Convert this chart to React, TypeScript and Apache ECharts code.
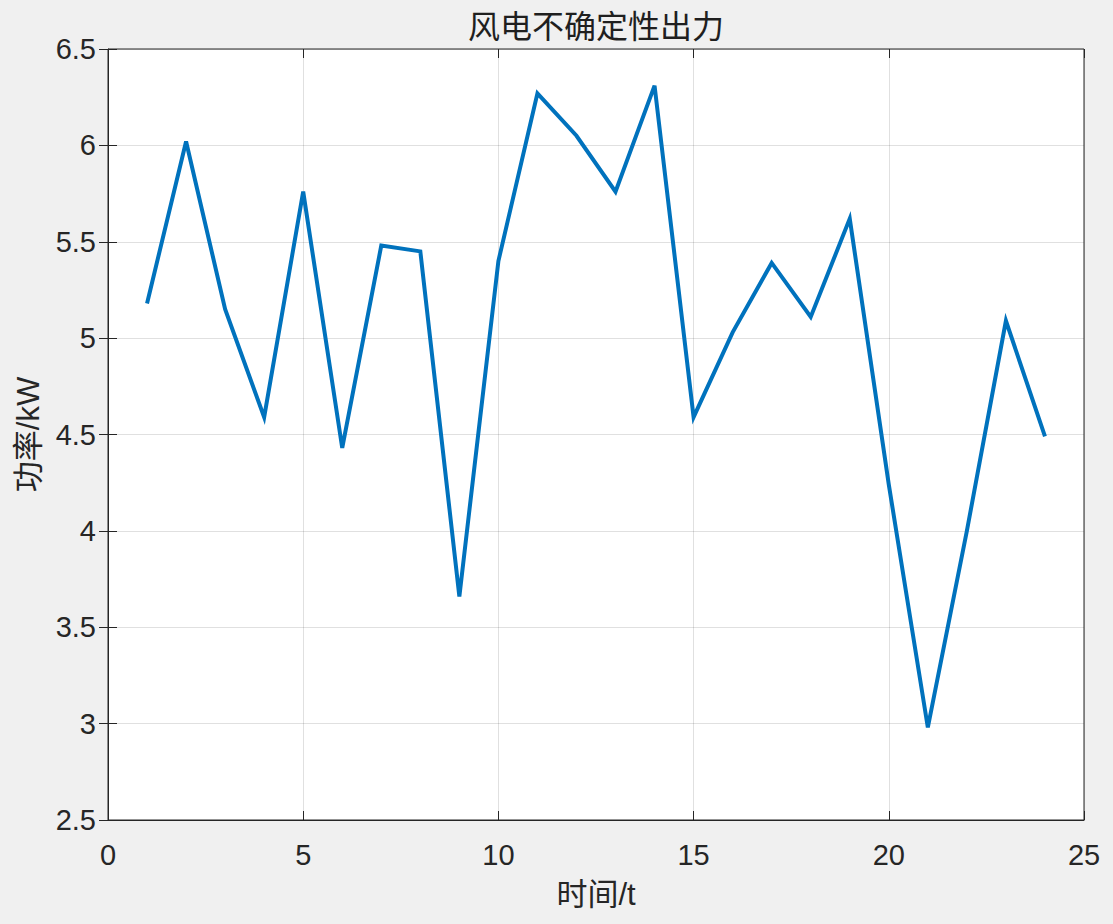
import React, { useEffect, useRef } from "react";
import * as echarts from "echarts";

const hours = [1, 2, 3, 4, 5, 6, 7, 8, 9, 10, 11, 12, 13, 14, 15, 16, 17, 18, 19, 20, 21, 22, 23, 24];
const power = [5.18, 6.02, 5.15, 4.59, 5.76, 4.43, 5.48, 5.45, 3.66, 5.40, 6.27, 6.05, 5.76, 6.31, 4.59, 5.03, 5.39, 5.11, 5.62, 4.24, 2.98, 4.0, 5.09, 4.49];
const titleText = "风电不确定性出力";
const xName = "时间/t";
const yName = "功率/kW";

const textColor = "#262626";
const gridColor = "rgba(38,38,38,0.14)";
const latin = "'Liberation Sans', Arial, sans-serif";
const cjk = "'Liberation Sans', 'Noto Sans CJK SC', sans-serif";

export default function App() {
  const ref = useRef<HTMLDivElement>(null);
  useEffect(() => {
    if (!ref.current) return;
    const chart = echarts.init(ref.current, undefined, { renderer: "svg" });
    const hiddenAxis = {
      axisLine: { show: false },
      axisTick: { show: true, inside: true, length: 9, lineStyle: { color: textColor, width: 1 } },
      axisLabel: { show: false },
      splitLine: { show: false },
    };
    chart.setOption({
      animation: false,
      backgroundColor: "#f0f0f0",
      graphic: [
        {
          type: "text",
          x: 596,
          y: 27,
          style: {
            text: titleText,
            fontFamily: cjk,
            fontSize: 32,
            fill: "#1f1f1f",
            align: "center",
            verticalAlign: "middle",
          },
        },
      ],
      grid: {
        left: 108,
        top: 49,
        width: 976,
        height: 771,
        show: true,
        backgroundColor: "#ffffff",
        borderColor: textColor,
        borderWidth: 1,
      },
      xAxis: [
        {
          type: "value",
          min: 0,
          max: 25,
          interval: 5,
          position: "bottom",
          name: xName,
          nameLocation: "middle",
          nameGap: 59,
          nameTextStyle: { fontFamily: cjk, fontSize: 31, color: textColor },
          axisLine: { show: true, lineStyle: { color: textColor, width: 1 } },
          axisTick: { show: true, inside: true, length: 9, lineStyle: { color: textColor } },
          axisLabel: { fontFamily: latin, fontSize: 29, color: textColor, margin: 20 },
          splitLine: { show: true, lineStyle: { color: gridColor, width: 1 } },
        },
        { type: "value", min: 0, max: 25, interval: 5, position: "top", ...hiddenAxis },
      ],
      yAxis: [
        {
          type: "value",
          min: 2.5,
          max: 6.5,
          interval: 0.5,
          position: "left",
          name: yName,
          nameLocation: "middle",
          nameGap: 64,
          nameRotate: 90,
          nameTextStyle: { fontFamily: cjk, fontSize: 31, color: textColor },
          axisLine: { show: true, lineStyle: { color: textColor, width: 1 } },
          axisTick: { show: true, inside: true, length: 9, lineStyle: { color: textColor } },
          axisLabel: { fontFamily: latin, fontSize: 29, color: textColor, margin: 12 },
          splitLine: { show: true, lineStyle: { color: gridColor, width: 1 } },
        },
        { type: "value", min: 2.5, max: 6.5, interval: 0.5, position: "right", ...hiddenAxis },
      ],
      series: [
        {
          type: "line",
          data: hours.map((h, i) => [h, power[i]]),
          showSymbol: false,
          lineStyle: { color: "#0072bd", width: 4, join: "miter" },
          itemStyle: { color: "#0072bd" },
        },
      ],
    });
    return () => chart.dispose();
  }, []);
  return (
    <div
      ref={ref}
      style={{ position: "fixed", left: 0, top: 0, width: 1113, height: 924 }}
    />
  );
}
